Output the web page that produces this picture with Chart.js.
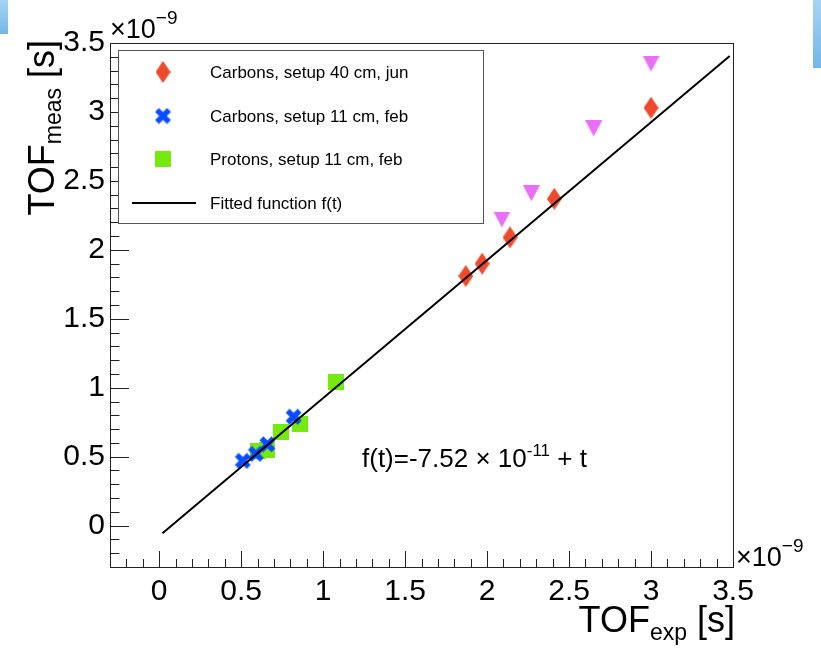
<!DOCTYPE html>
<html>
<head>
<meta charset="utf-8">
<script src="https://cdn.jsdelivr.net/npm/chart.js@4.4.0/dist/chart.umd.min.js"></script>
<style>
  html, body { margin: 0; padding: 0; background: #fff; }
  #wrap { position: relative; width: 821px; height: 649px; overflow: hidden; }
  #c { position: absolute; left: 0; top: 0; }
  .blue { position: absolute; top: 0; background: linear-gradient(#a6d4f4, #72b6e8); }
</style>
</head>
<body>
<div id="wrap">
  <canvas id="c" width="821" height="649"></canvas>
  <div class="blue" style="left:0;width:8px;height:34px"></div>
  <div class="blue" style="left:813px;width:8px;height:68px"></div>
</div>
<script>
// axis range and tick labels (units of 1e-9 s)
const axisMin = -0.3
const axisMax = 3.5
const majorTicks = [0, 0.5, 1, 1.5, 2, 2.5, 3, 3.5]

// Carbons, setup 40 cm, jun
const carbons40X = [1.87, 1.97, 2.14, 2.41, 3.00]
const carbons40Y = [1.81, 1.90, 2.09, 2.37, 3.03]
// Carbons, setup 11 cm, feb
const carbons11X = [0.51, 0.59, 0.66, 0.82]
const carbons11Y = [0.47, 0.52, 0.59, 0.79]
// Protons, setup 11 cm, feb
const protons11X = [0.60, 0.66, 0.74, 0.86, 1.08]
const protons11Y = [0.54, 0.55, 0.68, 0.74, 1.04]
// extra points (not in legend)
const extraX = [2.09, 2.27, 2.65, 3.00]
const extraY = [2.22, 2.41, 2.88, 3.35]
// fitted function f(t) = -7.52e-11 + t, drawn segment
const fitX = [0.02, 3.48]
const fitY = [-0.055, 3.405]

const FONT = "'Liberation Sans', Arial, Helvetica, sans-serif"

function pts (xs, ys) {
  return xs.map((x, i) => ({ x: x, y: ys[i] }))
}

// little canvases used as point markers (ROOT-like shapes)
function marker (w, h, draw) {
  const c = document.createElement('canvas')
  c.width = w
  c.height = h
  draw(c.getContext('2d'), w, h)
  return c
}

const diamond = marker(15, 22, (g, w, h) => {
  g.fillStyle = '#ee4a2e'
  g.beginPath()
  g.moveTo(w / 2, 0); g.lineTo(w, h / 2); g.lineTo(w / 2, h); g.lineTo(0, h / 2)
  g.closePath(); g.fill()
})
const cross = marker(17, 17, (g, w, h) => {
  g.strokeStyle = '#0a4cff'
  g.lineWidth = 5.5
  g.beginPath()
  g.moveTo(2.5, 2.5); g.lineTo(w - 2.5, h - 2.5)
  g.moveTo(w - 2.5, 2.5); g.lineTo(2.5, h - 2.5)
  g.stroke()
})
const square = marker(16, 16, (g, w, h) => {
  g.fillStyle = '#74ea0e'
  g.fillRect(0, 0, w, h)
})
const triangle = marker(17, 16, (g, w, h) => {
  g.fillStyle = '#e96ff6'
  g.beginPath()
  g.moveTo(0, 0); g.lineTo(w, 0); g.lineTo(w / 2, h)
  g.closePath(); g.fill()
})

// draw a run of text pieces (sub/superscripts) starting at x
function richWidth (ctx, parts) {
  let w = 0
  for (const p of parts) {
    ctx.font = p.size + 'px ' + FONT
    w += ctx.measureText(p.t).width
  }
  return w
}
function drawRich (ctx, parts, x, y) {
  ctx.textBaseline = 'alphabetic'
  ctx.textAlign = 'left'
  for (const p of parts) {
    ctx.font = p.size + 'px ' + FONT
    ctx.fillText(p.t, x, y + (p.dy || 0))
    x += ctx.measureText(p.t).width
  }
}

const rootStyle = {
  id: 'rootStyle',
  afterDraw (chart) {
    const ctx = chart.ctx
    const ca = chart.chartArea
    const xs = chart.scales.x
    const ys = chart.scales.y
    ctx.save()

    // frame
    ctx.strokeStyle = '#222'
    ctx.lineWidth = 1
    ctx.strokeRect(ca.left + 0.5, ca.top + 0.5, ca.right - ca.left, ca.bottom - ca.top)

    // major / minor ticks on left and bottom axes
    ctx.beginPath()
    for (let k = -3; k <= 35; k++) {
      const v = k / 10
      const major = k % 5 === 0
      const py = Math.round(ys.getPixelForValue(v)) + 0.5
      ctx.moveTo(ca.left, py)
      ctx.lineTo(ca.left + (major ? 19 : 9.5), py)
      const px = Math.round(xs.getPixelForValue(v)) + 0.5
      ctx.moveTo(px, ca.bottom)
      ctx.lineTo(px, ca.bottom - (major ? 16 : 8))
    }
    ctx.stroke()

    ctx.fillStyle = '#000'
    // exponent labels
    drawRich(ctx, [{ t: '\u00d710', size: 27 }, { t: '\u22129', size: 19, dy: -14 }], ca.left, 38)
    drawRich(ctx, [{ t: '\u00d710', size: 27 }, { t: '\u22129', size: 19, dy: -14 }], ca.right + 3, 566)

    // x title
    const xt = [{ t: 'TOF', size: 36 }, { t: 'exp', size: 23, dy: 8 }, { t: ' [s]', size: 36 }]
    drawRich(ctx, xt, ca.right + 2 - richWidth(ctx, xt), 632)

    // y title (rotated)
    const yt = [{ t: 'TOF', size: 36 }, { t: 'meas', size: 23, dy: 7 }, { t: ' [s]', size: 36 }]
    ctx.save()
    ctx.translate(54, 40)
    ctx.rotate(-Math.PI / 2)
    drawRich(ctx, yt, -richWidth(ctx, yt), 0)
    ctx.restore()

    // fit result text
    drawRich(ctx, [
      { t: 'f(t)=-7.52 \u00d7 10', size: 26 },
      { t: '-11', size: 17, dy: -11 },
      { t: ' + t', size: 26 }
    ], 362, 467)

    // legend box
    const lx = 118, ly = 50, lw = 365, lh = 173
    ctx.fillStyle = '#fff'
    ctx.fillRect(lx, ly, lw, lh)
    ctx.strokeStyle = '#555'
    ctx.strokeRect(lx + 0.5, ly + 0.5, lw, lh)
    const rows = [72, 116, 159, 203]
    const entries = chart.data.datasets.filter(d => d.legend)
    entries.forEach((d, i) => {
      const ry = rows[i]
      if (d.showLine) {
        ctx.strokeStyle = '#000'
        ctx.lineWidth = 2
        ctx.beginPath()
        ctx.moveTo(132, ry)
        ctx.lineTo(196, ry)
        ctx.stroke()
      } else {
        const img = d.pointStyle
        ctx.drawImage(img, 163 - img.width / 2, ry - img.height / 2)
      }
      ctx.fillStyle = '#000'
      ctx.font = '17px ' + FONT
      ctx.textBaseline = 'middle'
      ctx.fillText(d.label, 210, ry + 1)
    })
    ctx.restore()
  }
}

const tickFont = { family: FONT, size: 30 }

const ctx = document.getElementById('c').getContext('2d')
new Chart(ctx, {
  type: 'scatter',
  data: {
    datasets: [
      { label: 'Carbons, setup 40 cm, jun', legend: true, data: pts(carbons40X, carbons40Y), pointStyle: diamond, order: 1 },
      { label: 'Carbons, setup 11 cm, feb', legend: true, data: pts(carbons11X, carbons11Y), pointStyle: cross, order: 1 },
      { label: 'Protons, setup 11 cm, feb', legend: true, data: pts(protons11X, protons11Y), pointStyle: square, order: 2 },
      { label: 'Fitted function f(t)', legend: true, data: pts(fitX, fitY), showLine: true, borderColor: '#000', borderWidth: 2, pointRadius: 0, order: 0 },
      { label: 'extra', legend: false, data: pts(extraX, extraY), pointStyle: triangle, order: 1 }
    ]
  },
  options: {
    responsive: false,
    animation: false,
    devicePixelRatio: 1,
    layout: { padding: { top: 43, right: 88, left: 0, bottom: 0 } },
    plugins: { legend: { display: false }, tooltip: { enabled: false } },
    scales: {
      x: {
        type: 'linear',
        min: axisMin,
        max: axisMax,
        afterFit: s => { s.height = 82 },
        afterBuildTicks: s => { s.ticks = majorTicks.map(v => ({ value: v })) },
        grid: { display: false, drawTicks: false },
        border: { display: false },
        ticks: { font: tickFont, color: '#000', padding: 7, maxRotation: 0, autoSkip: false, callback: v => String(v) }
      },
      y: {
        type: 'linear',
        min: axisMin,
        max: axisMax,
        afterFit: s => { s.width = 110 },
        afterBuildTicks: s => { s.ticks = majorTicks.map(v => ({ value: v })) },
        grid: { display: false, drawTicks: false },
        border: { display: false },
        ticks: { font: tickFont, color: '#000', padding: 5, autoSkip: false, callback: v => String(v) }
      }
    }
  },
  plugins: [rootStyle]
})
</script>
</body>
</html>
